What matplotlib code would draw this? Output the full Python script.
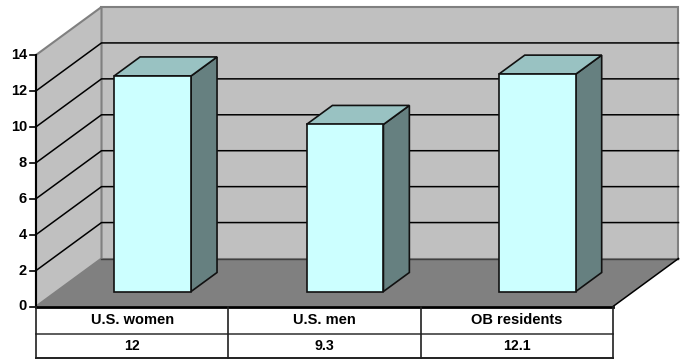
import numpy as np
import matplotlib
matplotlib.use("Agg")
import matplotlib.pyplot as plt
from matplotlib.patches import Polygon

categories = ["U.S. women", "U.S. men", "OB residents"]
values = [12, 9.3, 12.1]
value_labels = ["12", "9.3", "12.1"]
y_ticks = [0, 2, 4, 6, 8, 10, 12, 14]

W, H = 683, 360
plt.rcParams["font.family"] = ["Liberation Sans", "DejaVu Sans"]

fig = plt.figure(figsize=(W / 100, H / 100), dpi=100)
ax = fig.add_axes([0, 0, 1, 1])

# axis limits chosen so the front plane runs 36-613 px across and 306.5-55 px up
unit_x = (613 - 36) / 3
unit_y = (306.5 - 55) / 14
ax.set_xlim(-36 / unit_x, (W - 36) / unit_x)
ax.set_ylim(-(H - 306.5) / unit_y, 306.5 / unit_y)
ax.axis("off")

# oblique depth vector for the fake 3D box
dx = 65.5 / unit_x
dy = 48 / unit_y
x_end = len(categories)
y_top = y_ticks[-1]


def poly(pts, face, edge="none", lw=1.0, z=1):
    ax.add_patch(Polygon(pts, closed=True, facecolor=face, edgecolor=edge,
                         linewidth=lw, zorder=z, joinstyle="miter"))


# walls and floor
poly([(dx, dy), (x_end + dx, dy), (x_end + dx, y_top + dy), (dx, y_top + dy)],
     "#c0c0c0", "#808080", 1.5, 1)
poly([(0, 0), (dx, dy), (dx, y_top + dy), (0, y_top)], "#c0c0c0", "#808080", 1.5, 1)
poly([(0, 0), (x_end, 0), (x_end + dx, dy), (dx, dy)], "#808080", "none", 1, 2)
ax.plot([dx, x_end + dx], [dy, dy], color="#404040", lw=1, zorder=2)
ax.plot([x_end, x_end + dx], [0, dy], color="black", lw=1.1, zorder=2)

# gridlines on the two walls
for t in y_ticks[1:-1]:
    ax.plot([0, dx, x_end + dx], [t, t + dy, t + dy], color="black", lw=1.1, zorder=3)

# bars
bar_w = 0.4
d0, d1 = 15 / 48, 34 / 48
for i, v in enumerate(values):
    x0 = i + 0.5 - bar_w / 2 + d0 * dx
    x1 = x0 + bar_w
    y0 = d0 * dy
    ddx = (d1 - d0) * dx
    ddy = (d1 - d0) * dy
    poly([(x1, y0), (x1 + ddx, y0 + ddy), (x1 + ddx, y0 + ddy + v), (x1, y0 + v)],
         "#668080", "#111111", 1.2, 5)
    poly([(x0, y0 + v), (x1, y0 + v), (x1 + ddx, y0 + v + ddy), (x0 + ddx, y0 + v + ddy)],
         "#99c2c2", "#111111", 1.2, 5)
    poly([(x0, y0), (x1, y0), (x1, y0 + v), (x0, y0 + v)],
         "#ccffff", "#111111", 1.2, 6)

# value axis
ax.plot([0, 0], [0, y_top], color="black", lw=1.5, zorder=7)
for t in y_ticks:
    ax.plot([-6 / unit_x, 0], [t, t], color="black", lw=1.2, zorder=7)
    ax.text(-9 / unit_x, t, str(t), ha="right", va="center", fontsize=10.5,
            fontweight="bold", color="black")

# data table under the plot
row1 = -27.5 / unit_y
row2 = -51.5 / unit_y
ax.plot([0, x_end], [0, 0], color="black", lw=2, zorder=8)
ax.plot([0, x_end], [row1, row1], color="#404040", lw=1.2, zorder=8)
ax.plot([0, x_end], [row2, row2], color="#202020", lw=1.4, zorder=8)
for c in range(len(categories) + 1):
    ax.plot([c, c], [0, row2], color="#202020", lw=1.2, zorder=8)
for i, (name, label) in enumerate(zip(categories, value_labels)):
    ax.text(i + 0.5, row1 / 2, name, ha="center", va="center", fontsize=10.5,
            fontweight="bold", color="black")
    ax.text(i + 0.5, (row1 + row2) / 2, label, ha="center", va="center", fontsize=10.2,
            fontweight="bold", color="black")

fig.savefig("out.png", dpi=100, facecolor="white")
